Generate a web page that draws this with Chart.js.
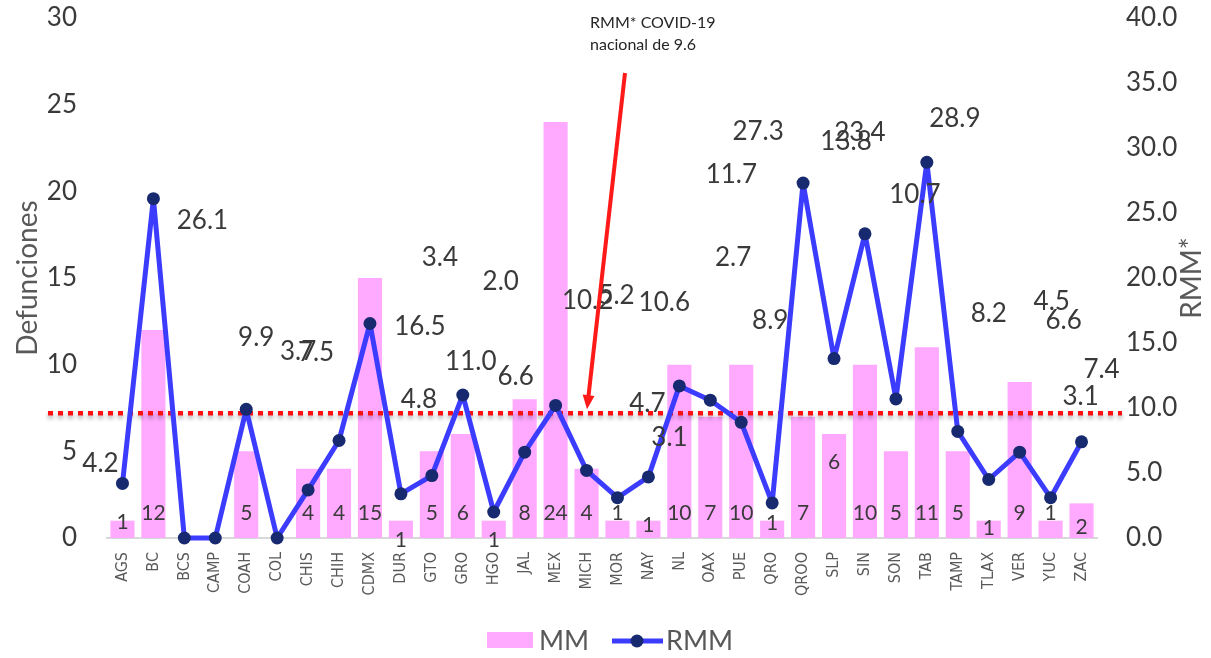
<!DOCTYPE html>
<html><head><meta charset="utf-8">
<script src="https://cdn.jsdelivr.net/npm/chart.js@4.4.1/dist/chart.umd.min.js"></script>
<style>html,body{margin:0;padding:0;background:#fff;}#wrap{width:1211px;height:658px;}</style>
</head><body><div id="wrap"><canvas id="c" width="1211" height="658"></canvas></div>
<script>
const categories = ['AGS','BC','BCS','CAMP','COAH','COL','CHIS','CHIH','CDMX','DUR','GTO','GRO','HGO','JAL','MEX','MICH','MOR','NAY','NL','OAX','PUE','QRO','QROO','SLP','SIN','SON','TAB','TAMP','TLAX','VER','YUC','ZAC'];
const mmValues = [1,12,0,0,5,0,4,4,15,1,5,6,1,8,24,4,1,1,10,7,10,1,7,6,10,5,11,5,1,9,1,2];
const rmmValues = [4.2,26.1,0,0,9.9,0,3.7,7.5,16.5,3.4,4.8,11.0,2.0,6.6,10.2,5.2,3.1,4.7,11.7,10.6,8.9,2.7,27.3,13.8,23.4,10.7,28.9,8.2,4.5,6.6,3.1,7.4];
const leftTicks = [0,5,10,15,20,25,30];
const rightTicks = [0,5,10,15,20,25,30,35,40];
const nationalRMM = 9.6;
const noteLines = ['RMM* COVID-19', 'nacional de ' + nationalRMM];
const seriesNames = ['MM', 'RMM'];

// layout-only: label offsets (px) from each point / bar base, as in the reference
const rmmLabelOffsets = [[-22,-20],[49,22],[0,0],[0,0],[10,-72],[0,0],[-10,-138],[-23,-88],[50,3],[39,-236],[-13,-76],[8,-33],[7,-230],[-9,-76],[32,-105],[30,-175],[52,-60],[-1,-73],[52,-211],[-46,-98],[29,-102],[-39,-245],[-45,-51],[12,-217],[-5,-101],[19,-204],[28,-44],[31,-118],[63,-178],[44,-132],[30,-101],[20,-72]];
const barLabelDy = [-16,-25,0,0,-25,0,-25,-25,-25,2,-25,-25,2,-25,-25,-25,-25,-13,-25,-25,-25,-15,-25,-76,-25,-25,-25,-25,-10,-25,-25,-11];

const FONT = 'Lato';
const TXT = '#3a3a3a';

const extras = {
  id: 'extras',
  afterDatasetDraw(chart, args) {
    if (args.index !== 0) return;
    const ctx = chart.ctx, y1 = chart.scales.y1, a = chart.chartArea;
    const y = y1.getPixelForValue(nationalRMM);
    ctx.save();
    ctx.shadowColor = 'rgba(0,0,0,0.35)';
    ctx.shadowBlur = 4; ctx.shadowOffsetY = 3;
    ctx.strokeStyle = '#ff1010'; ctx.lineWidth = 4.5;
    ctx.setLineDash([5,5]);
    ctx.beginPath(); ctx.moveTo(a.left - 59, y); ctx.lineTo(a.right + 25, y); ctx.stroke();
    ctx.restore();
  },
  afterDatasetsDraw(chart) {
    const ctx = chart.ctx;
    const bm = chart.getDatasetMeta(0), lm = chart.getDatasetMeta(1);
    const base = chart.scales.y.getPixelForValue(0);
    ctx.save();
    ctx.fillStyle = TXT; ctx.textAlign = 'center'; ctx.textBaseline = 'middle';
    ctx.font = '21px ' + FONT;
    bm.data.forEach((b, i) => { if (mmValues[i]) ctx.fillText(String(mmValues[i]), b.x, base + barLabelDy[i]); });
    ctx.font = '26px ' + FONT;
    lm.data.forEach((p, i) => { if (rmmValues[i]) { const o = rmmLabelOffsets[i]; ctx.fillText(rmmValues[i].toFixed(1), p.x + o[0], p.y + o[1]); } });
    // arrow
    const tipY = chart.scales.y1.getPixelForValue(nationalRMM) - 4;
    const x0 = 625, y0 = 73, x1 = 587, y1p = tipY;
    const ang = Math.atan2(y1p - y0, x1 - x0);
    ctx.strokeStyle = '#ff1a1a'; ctx.fillStyle = '#ff1a1a'; ctx.lineWidth = 4;
    ctx.beginPath(); ctx.moveTo(x0, y0); ctx.lineTo(x1 - 10*Math.cos(ang), y1p - 10*Math.sin(ang)); ctx.stroke();
    ctx.beginPath();
    ctx.moveTo(x1, y1p);
    ctx.lineTo(x1 - 14*Math.cos(ang) + 6*Math.sin(ang), y1p - 14*Math.sin(ang) - 6*Math.cos(ang));
    ctx.lineTo(x1 - 14*Math.cos(ang) - 6*Math.sin(ang), y1p - 14*Math.sin(ang) + 6*Math.cos(ang));
    ctx.closePath(); ctx.fill();
    // note text
    ctx.fillStyle = '#262626'; ctx.textAlign = 'left'; ctx.font = '16px ' + FONT;
    ctx.fillText(noteLines[0], 590, 23);
    ctx.fillText(noteLines[1], 590, 45);
    ctx.restore();
  },
  afterDraw(chart) {
    const ctx = chart.ctx;
    ctx.save();
    ctx.translate(1192, 278); ctx.rotate(-Math.PI/2);
    ctx.fillStyle = '#595959'; ctx.font = '28px ' + FONT; ctx.textAlign = 'center'; ctx.textBaseline = 'middle';
    ctx.fillText('RMM*', 0, 0);
    ctx.restore();
    ctx.save();
    const ly = 641;
    ctx.fillStyle = chart.data.datasets[0].backgroundColor;
    ctx.fillRect(487, 632, 46, 16);
    ctx.fillStyle = '#595959'; ctx.font = '27px ' + FONT; ctx.textBaseline = 'middle'; ctx.textAlign = 'left';
    ctx.fillText(seriesNames[0], 539, ly);
    ctx.strokeStyle = chart.data.datasets[1].borderColor; ctx.lineWidth = 5;
    ctx.beginPath(); ctx.moveTo(612, ly); ctx.lineTo(663, ly); ctx.stroke();
    ctx.fillStyle = chart.data.datasets[1].pointBackgroundColor;
    ctx.beginPath(); ctx.arc(637, ly, 6.5, 0, Math.PI*2); ctx.fill();
    ctx.fillStyle = '#595959';
    ctx.fillText(seriesNames[1], 666, ly);
    ctx.restore();
  }
};

function noPad(s) { s.paddingTop = 0; s.paddingBottom = 0; s.paddingLeft = 0; s.paddingRight = 0; }

new Chart(document.getElementById('c'), {
  data: {
    labels: categories,
    datasets: [
      { type: 'bar', label: seriesNames[0], data: mmValues, yAxisID: 'y', backgroundColor: '#ffaaff', barPercentage: 0.78, categoryPercentage: 1, order: 2 },
      { type: 'line', label: seriesNames[1], data: rmmValues, yAxisID: 'y1', borderColor: '#3c3cff', borderWidth: 5, borderJoinStyle: 'round', borderCapStyle: 'round', pointRadius: 6.5, pointHoverRadius: 6.5, pointBackgroundColor: '#172a70', pointBorderColor: '#172a70', pointBorderWidth: 0, tension: 0, clip: false, order: 1 }
    ]
  },
  options: {
    responsive: false, animation: false, devicePixelRatio: 1,
    layout: { padding: { top: 18, left: 0, right: 0, bottom: 0 } },
    plugins: { legend: { display: false }, tooltip: { enabled: false } },
    scales: {
      x: {
        grid: { display: false, drawTicks: false },
        border: { display: true, color: '#d9d9d9', width: 2 },
        ticks: { autoSkip: false, maxRotation: 90, minRotation: 90, padding: 14, color: '#595959', font: { family: "'DejaVu Sans Condensed', Lato", size: 16 } },
        afterFit(s) { s.height = 120; noPad(s); }
      },
      y: {
        position: 'left', min: 0, max: 30,
        grid: { display: false, drawTicks: false }, border: { display: false },
        afterBuildTicks(s) { s.ticks = leftTicks.map(v => ({ value: v })); },
        ticks: { padding: 30, color: TXT, font: { family: FONT, size: 26 } },
        title: { display: true, text: 'Defunciones', color: '#595959', font: { family: FONT, size: 28 }, padding: { top: 11, bottom: 0 } },
        afterFit(s) { s.width = 107; noPad(s); }
      },
      y1: {
        position: 'right', min: 0, max: 40,
        grid: { display: false, drawTicks: false }, border: { display: false },
        afterBuildTicks(s) { s.ticks = rightTicks.map(v => ({ value: v })); },
        ticks: { padding: 29, color: TXT, font: { family: FONT, size: 26 }, callback: v => Number(v).toFixed(1) },
        afterFit(s) { s.width = 114; noPad(s); }
      }
    }
  },
  plugins: [extras]
});
</script></body></html>
